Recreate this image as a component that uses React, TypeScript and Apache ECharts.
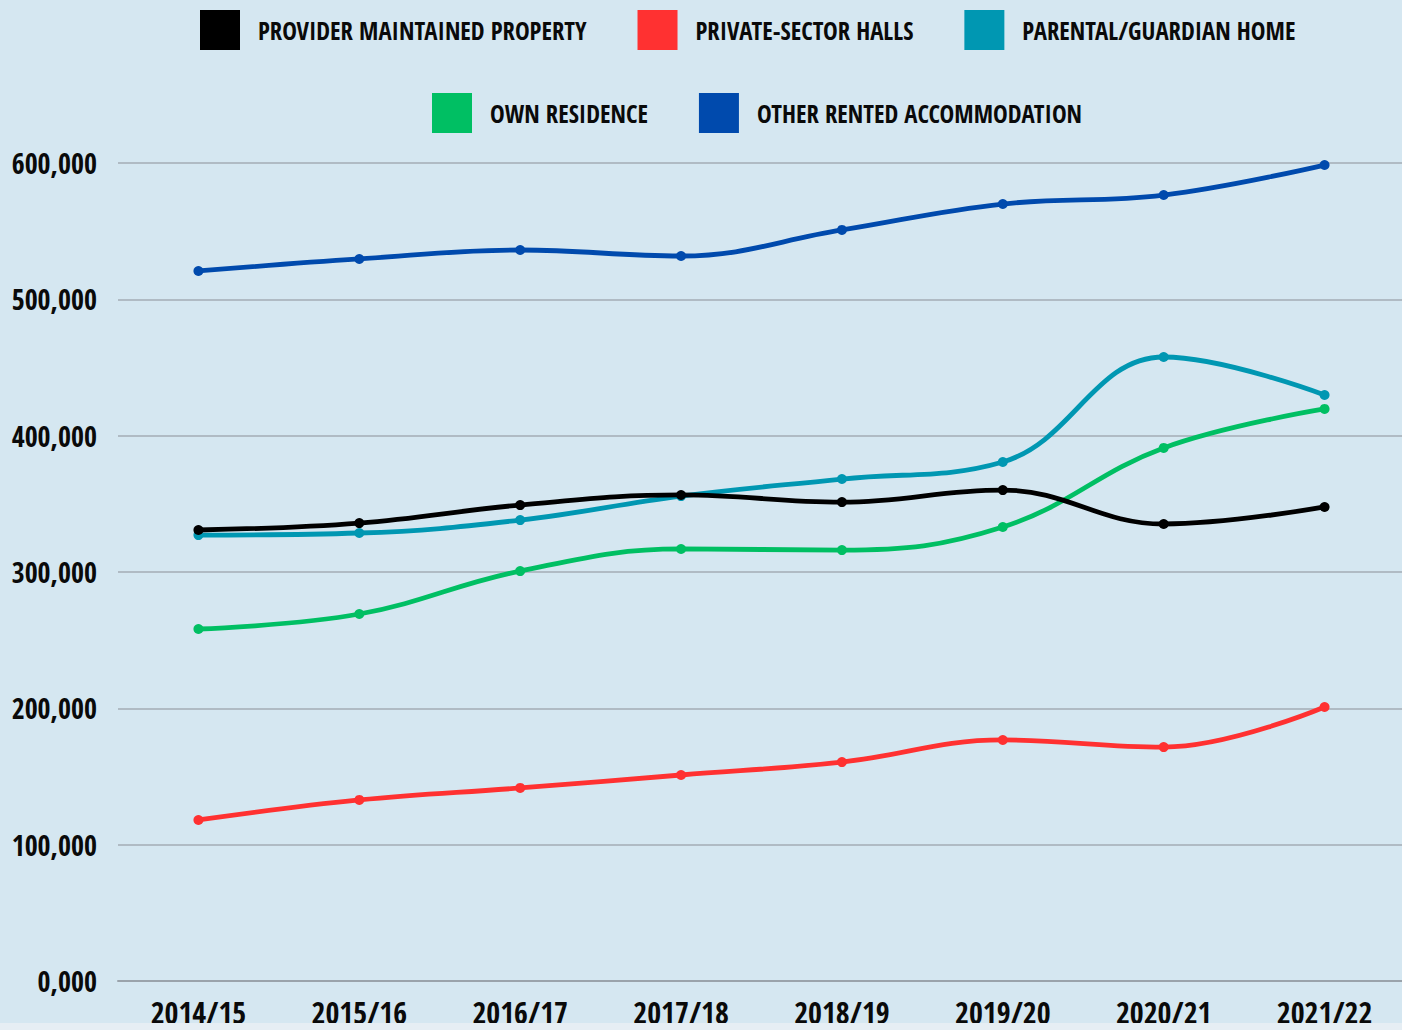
import React, { useEffect, useRef } from "react";
import * as echarts from "echarts";

const categories = ["2014/15", "2015/16", "2016/17", "2017/18", "2018/19", "2019/20", "2020/21", "2021/22"];
const providerMaintained = [330800, 335900, 349100, 356500, 351300, 360100, 335200, 347700];
const privateHalls = [118100, 132800, 141600, 151100, 160600, 176800, 171600, 201000];
const parentalHome = [327100, 328600, 338100, 355700, 368200, 380700, 457700, 429800];
const ownResidence = [258200, 269200, 300700, 316900, 316100, 333000, 391000, 419600];
const otherRented = [520800, 529600, 536200, 531800, 550900, 569900, 576500, 598500];
const yTickLabels = ["0,000", "100,000", "200,000", "300,000", "400,000", "500,000", "600,000"];

const seriesNames = [
  "PROVIDER MAINTAINED PROPERTY",
  "PRIVATE-SECTOR HALLS",
  "PARENTAL/GUARDIAN HOME",
  "OWN RESIDENCE",
  "OTHER RENTED ACCOMMODATION",
];
const colors = ["#000000", "#ff3131", "#0097b2", "#00bf63", "#004aad"];
const seriesData = [providerMaintained, privateHalls, parentalHome, ownResidence, otherRented];

const FONT = "'Open Sans Condensed', 'Roboto Condensed', 'DejaVu Sans Condensed', sans-serif";

export default function App() {
  const ref = useRef<HTMLDivElement>(null);
  useEffect(() => {
    if (!ref.current) return;
    const chart = echarts.init(ref.current, undefined, { renderer: "svg" });
    const legendText = {
      fontFamily: FONT,
      fontWeight: "bold" as const,
      fontSize: 24.7,
      color: "#0a0a0a",
      padding: [0, 0, 0, 13],
    };
    chart.setOption({
      animation: false,
      backgroundColor: "#d5e7f1",
      color: colors,
      legend: [
        {
          data: seriesNames.slice(0, 3),
          top: 5,
          left: 195,
          itemWidth: 40,
          itemHeight: 40,
          itemGap: 51,
          icon: "rect",
          textStyle: legendText,
        },
        {
          data: seriesNames.slice(3),
          top: 88,
          left: 427,
          itemWidth: 40,
          itemHeight: 40,
          itemGap: 51,
          icon: "rect",
          textStyle: legendText,
        },
      ],
      grid: { left: 118, right: -3, top: 163, bottom: 42, containLabel: false, outerBoundsMode: "none" },
      xAxis: {
        type: "category",
        data: categories,
        boundaryGap: true,
        axisLine: { show: true, lineStyle: { color: "#9aa3ab", width: 2 } },
        axisTick: { show: false },
        axisLabel: {
          interval: 0,
          fontFamily: FONT,
          fontWeight: "bold",
          fontSize: 30,
          color: "#0a0a0a",
          margin: 16,
        },
      },
      yAxis: {
        type: "value",
        min: 0,
        max: 600000,
        interval: 100000,
        axisLine: { show: false },
        axisTick: { show: false },
        splitLine: { lineStyle: { color: "#a3acb4", width: 1.5 } },
        axisLabel: {
          fontFamily: FONT,
          fontWeight: "bold",
          fontSize: 28,
          color: "#0a0a0a",
          margin: 21,
          formatter: (v: number) => yTickLabels[Math.round(v / 100000)] ?? "",
        },
      },
      series: seriesNames.map((name, i) => ({
        name,
        type: "line",
        data: seriesData[i],
        smooth: 0.4,
        symbol: "circle",
        symbolSize: 10,
        lineStyle: { width: 4.8, color: colors[i] },
        itemStyle: { color: colors[i] },
        z: 10 - i,
      })),
    });
    return () => chart.dispose();
  }, []);
  return (
    <div style={{ position: "absolute", left: 0, top: 0, width: 1402, height: 1030, background: "#e6eef4" }}>
      <div ref={ref} style={{ width: 1402, height: 1023 }} />
    </div>
  );
}
